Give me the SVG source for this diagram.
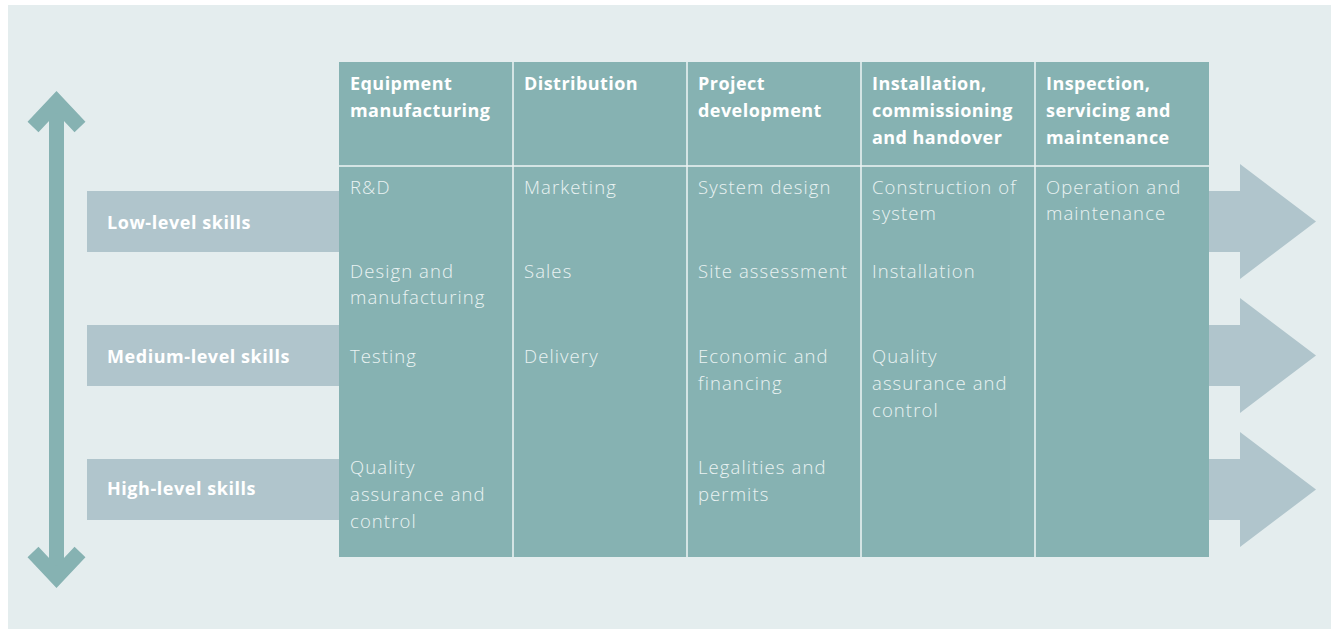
<svg xmlns="http://www.w3.org/2000/svg" width="1331" height="629" viewBox="0 0 1331 629">
<style>
.bar{fill:#b0c5cc}
.tbl{fill:#86b2b2}
.div{stroke:#eef4f4;stroke-width:1.5}
.lbl{font-family:"Open Sans","Liberation Sans",sans-serif;font-weight:700;font-size:18px;letter-spacing:0.55px;fill:#ffffff}
.hd{font-family:"Open Sans","Liberation Sans",sans-serif;font-weight:700;font-size:18px;letter-spacing:0.45px;fill:#ffffff}
.bd{font-family:"Open Sans","Liberation Sans",sans-serif;font-weight:300;font-size:18.5px;letter-spacing:1.1px;fill:#eaf2f2}
</style>
<rect x="0" y="0" width="1331" height="629" fill="#ffffff"/>
<rect x="8" y="5" width="1323" height="624" fill="#e4edee"/>
<g id="connectors">
<g id="vertical-arrow" fill="none" stroke="#86b2b2" stroke-width="15">
<line x1="56.5" y1="100" x2="56.5" y2="579"/>
<polyline points="33,127 56.5,102 80,127" stroke-linejoin="miter" stroke-miterlimit="10"/>
<polyline points="33,552 56.5,577 80,552" stroke-linejoin="miter" stroke-miterlimit="10"/>
</g>
<polygon id="arrow-low" class="bar" points="87,191 1240,191 1240,164 1316,221.5 1240,279 1240,252 87,252"/>
<polygon id="arrow-medium" class="bar" points="87,325 1240,325 1240,298 1316,355.5 1240,413 1240,386 87,386"/>
<polygon id="arrow-high" class="bar" points="87,459 1240,459 1240,432 1316,489.5 1240,547 1240,520 87,520"/>
</g>
<g id="skill-labels">
<text id="low" class="lbl" x="107" y="229">Low-level skills</text>
<text id="medium" class="lbl" x="107" y="363">Medium-level skills</text>
<text id="high" class="lbl" x="107" y="495">High-level skills</text>
</g>
<g id="table">
<rect class="tbl" x="339" y="62" width="870" height="495"/>
<line class="div" x1="339" y1="166" x2="1209" y2="166"/>
<line class="div" x1="513" y1="62" x2="513" y2="557"/>
<line class="div" x1="687" y1="62" x2="687" y2="557"/>
<line class="div" x1="861" y1="62" x2="861" y2="557"/>
<line class="div" x1="1035" y1="62" x2="1035" y2="557"/>
</g>
<g id="col-equipment">
<text class="hd" x="350" y="90">Equipment</text>
<text class="hd" x="350" y="117">manufacturing</text>
<text class="bd" x="350" y="194">R&amp;D</text>
<text class="bd" x="350" y="278">Design and</text>
<text class="bd" x="350" y="304">manufacturing</text>
<text class="bd" x="350" y="363">Testing</text>
<text class="bd" x="350" y="474">Quality</text>
<text class="bd" x="350" y="501">assurance and</text>
<text class="bd" x="350" y="528">control</text>
</g>
<g id="col-distribution">
<text class="hd" x="524" y="90">Distribution</text>
<text class="bd" x="524" y="194">Marketing</text>
<text class="bd" x="524" y="278">Sales</text>
<text class="bd" x="524" y="363">Delivery</text>
</g>
<g id="col-project">
<text class="hd" x="698" y="90">Project</text>
<text class="hd" x="698" y="117">development</text>
<text class="bd" x="698" y="194">System design</text>
<text class="bd" x="698" y="278">Site assessment</text>
<text class="bd" x="698" y="363">Economic and</text>
<text class="bd" x="698" y="390">financing</text>
<text class="bd" x="698" y="474">Legalities and</text>
<text class="bd" x="698" y="501">permits</text>
</g>
<g id="col-installation">
<text class="hd" x="872" y="90">Installation,</text>
<text class="hd" x="872" y="117">commissioning</text>
<text class="hd" x="872" y="144">and handover</text>
<text class="bd" x="872" y="194">Construction of</text>
<text class="bd" x="872" y="220">system</text>
<text class="bd" x="872" y="278">Installation</text>
<text class="bd" x="872" y="363">Quality</text>
<text class="bd" x="872" y="390">assurance and</text>
<text class="bd" x="872" y="417">control</text>
</g>
<g id="col-inspection">
<text class="hd" x="1046" y="90">Inspection,</text>
<text class="hd" x="1046" y="117">servicing and</text>
<text class="hd" x="1046" y="144">maintenance</text>
<text class="bd" x="1046" y="194">Operation and</text>
<text class="bd" x="1046" y="220">maintenance</text>
</g>
</svg>
